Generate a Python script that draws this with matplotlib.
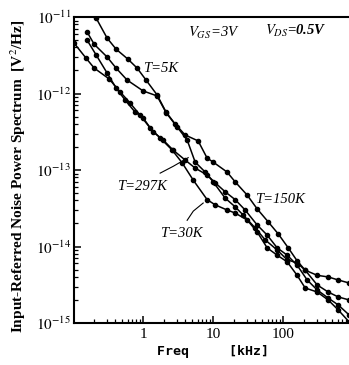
import matplotlib
matplotlib.use("Agg")
import matplotlib.pyplot as plt

plt.rcParams['mathtext.fontset'] = 'stix'

# frequencies in kHz, spectra in V^2/Hz
f_5k = [0.213, 0.306, 0.411, 0.61, 0.82, 1.10, 1.58, 2.13, 2.86, 3.98, 6.1, 8.2, 10, 15.8,
        20.6, 30.6, 42.5, 61, 85, 118, 158, 206, 306, 439, 611, 877]
s_5k = [9.7e-12, 5.3e-12, 3.8e-12, 2.8e-12, 2.15e-12, 1.5e-12, 9.6e-13, 5.7e-13, 4.0e-13,
        2.87e-13, 2.4e-13, 1.43e-13, 1.27e-13, 9.4e-14, 7.0e-14, 4.7e-14, 3.1e-14, 2.1e-14,
        1.46e-14, 9.6e-15, 6.5e-15, 4.9e-15, 4.2e-15, 4.0e-15, 3.65e-15, 3.33e-15]

f_150k = [0.158, 0.20, 0.306, 0.411, 0.59, 1.0, 1.58, 2.13, 3.06, 4.25, 5.53, 7.69, 10, 14.8,
          20.6, 26.8, 39.8, 55.3, 82, 114, 158, 206, 306, 439, 611, 877]
s_150k = [6.4e-12, 4.4e-12, 3.0e-12, 2.15e-12, 1.5e-12, 1.08e-12, 9.3e-13, 5.6e-13, 3.65e-13,
          2.47e-13, 1.27e-13, 9.4e-14, 7.0e-14, 4.3e-14, 3.3e-14, 2.58e-14, 1.75e-14, 1.22e-14,
          9.0e-15, 6.7e-15, 6.1e-15, 4.9e-15, 3.14e-15, 2.54e-15, 2.19e-15, 2.0e-15]

f_297k = [0.158, 0.213, 0.306, 0.411, 0.553, 0.769, 1.0, 1.39, 1.93, 2.68, 3.98, 5.53, 8.2,
          10.7, 14.8, 20.6, 28.6, 42.5, 59, 82, 114, 158, 220, 306, 439, 611, 877]
s_297k = [5.0e-12, 3.2e-12, 1.85e-12, 1.18e-12, 8.2e-13, 5.7e-13, 4.8e-13, 3.14e-13, 2.47e-13,
          1.82e-13, 1.35e-13, 1.06e-13, 8.6e-14, 6.8e-14, 5.2e-14, 4.1e-14, 3.0e-14, 1.91e-14,
          1.41e-14, 9.6e-15, 7.7e-15, 5.7e-15, 3.65e-15, 2.7e-15, 2.12e-15, 1.72e-15, 1.27e-15]

f_30k = [0.103, 0.153, 0.20, 0.327, 0.469, 0.652, 0.906, 1.26, 1.75, 2.6, 3.61, 5.18, 8.2,
         10.7, 15.8, 20.6, 30.6, 42.5, 59, 82, 114, 158, 206, 306, 439, 611, 877]
s_30k = [4.57e-12, 2.9e-12, 2.15e-12, 1.55e-12, 1.05e-12, 7.5e-13, 5.2e-13, 3.54e-13, 2.62e-13,
         1.82e-13, 1.24e-13, 7.4e-14, 4.1e-14, 3.5e-14, 3.0e-14, 2.74e-14, 2.22e-14, 1.55e-14,
         9.6e-15, 7.7e-15, 6.3e-15, 4.2e-15, 2.87e-15, 2.54e-15, 2.0e-15, 1.48e-15, 1.03e-15]

fig = plt.figure(figsize=(3.49, 3.65), dpi=100)
ax = fig.add_axes([74/349, 42/365, 278/349, 306/365])

for fx, sy in [(f_5k, s_5k), (f_150k, s_150k), (f_297k, s_297k), (f_30k, s_30k)]:
    ax.plot(fx, sy, color='black', lw=1.1, marker='o', ms=3.0, clip_on=True)

ax.set_xscale('log')
ax.set_yscale('log')
ax.set_xlim(0.103, 960)
ax.set_ylim(1e-15, 1e-11)
ax.spines['right'].set_visible(False)
for s in ['left', 'bottom', 'top']:
    ax.spines[s].set_linewidth(1.5)
ax.tick_params(which='both', direction='in', top=False, right=False)
ax.tick_params(which='major', length=5, width=1.1)
ax.tick_params(which='minor', length=3, width=0.9)
ax.set_xticks([1, 10, 100])
ax.set_xticklabels(['1', '10', '100'], family='Liberation Serif', fontsize=11)
ax.set_yticks([1e-15, 1e-14, 1e-13, 1e-12, 1e-11])
ax.set_yticklabels([r'$10^{-15}$', r'$10^{-14}$', r'$10^{-13}$', r'$10^{-12}$', r'$10^{-11}$'],
                   fontsize=11)
ax.tick_params(axis='y', pad=2)

ax.set_xlabel('Freq     [kHz]', family='DejaVu Sans Mono', fontweight='bold', fontsize=9.5,
              labelpad=3)
ax.set_ylabel('Input-Referred Noise Power Spectrum  [V$^2$/Hz]', family='Liberation Serif',
              fontweight='bold', fontsize=11.1)
ax.yaxis.set_label_coords(-0.165, 0.48)

tk = dict(family='Liberation Serif', style='italic', fontsize=10.5, color='black', va='center')
ax.text(4.4, 6.2e-12, r'$V_{GS}$=3V', **tk)
ax.text(55, 6.5e-12, r'$V_{DS}$=0.5V', fontweight='bold', **tk)
ax.text(1.0, 2.15e-12, 'T=5K', **tk)
ax.text(0.43, 6.0e-14, 'T=297K', **tk)
ax.text(40, 4.1e-14, 'T=150K', **tk)
ax.text(1.75, 1.5e-14, 'T=30K', **tk)

# leader lines from labels
ax.plot([1.75, 2.7, 4.4], [9.1e-14, 1.12e-13, 1.45e-13], color='black', lw=0.8)
ax.plot([4.25, 5.2, 7.2], [2.2e-14, 2.9e-14, 3.7e-14], color='black', lw=0.8)

fig.savefig('out.png', dpi=100)
